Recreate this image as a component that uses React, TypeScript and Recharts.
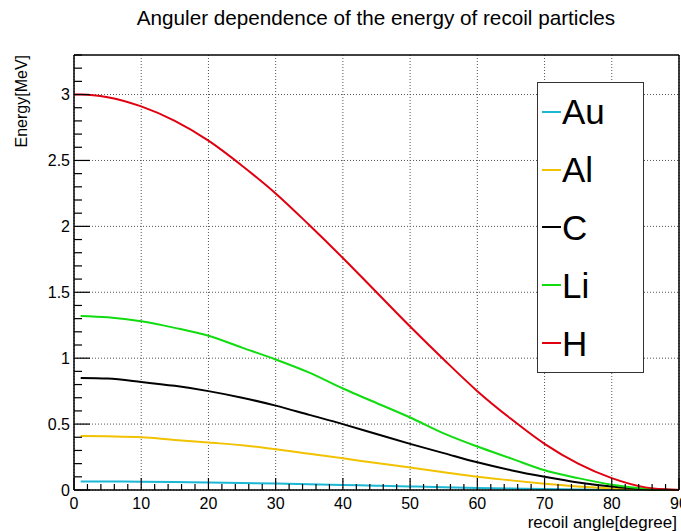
import React from 'react';
import { ComposedChart, Line, Scatter, XAxis, YAxis, CartesianGrid } from 'recharts';

// recoil angle [deg]
const angles = [0, 1, 5, 10, 15, 20, 25, 30, 35, 40, 45, 50, 55, 60, 65, 70, 75, 80, 85, 88, 90];

// energy of the recoil particle [MeV]
const auEnergy = [null, 0.065, 0.065, 0.063, 0.061, 0.057, 0.053, 0.049, 0.044, 0.038, 0.033, 0.027, 0.021, 0.016, 0.012, 0.008, 0.004, 0.002, 0.0, 0.0, 0.0];
const alEnergy = [null, 0.41, 0.407, 0.4, 0.38, 0.36, 0.34, 0.31, 0.275, 0.24, 0.205, 0.17, 0.135, 0.1, 0.073, 0.048, 0.027, 0.012, 0.003, 0.0, 0.0];
const cEnergy = [null, 0.85, 0.845, 0.82, 0.79, 0.75, 0.7, 0.64, 0.57, 0.5, 0.425, 0.35, 0.28, 0.21, 0.15, 0.1, 0.057, 0.026, 0.006, 0.001, 0.0];
const liEnergy = [null, 1.32, 1.31, 1.28, 1.23, 1.17, 1.08, 0.99, 0.89, 0.77, 0.66, 0.55, 0.43, 0.33, 0.24, 0.15, 0.09, 0.04, 0.01, 0.002, 0.0];
const hEnergy = [3.0, 3.0, 2.98, 2.91, 2.8, 2.65, 2.46, 2.25, 2.01, 1.76, 1.5, 1.24, 0.99, 0.75, 0.54, 0.35, 0.2, 0.09, 0.02, 0.005, 0.0];

const xTicks = [0, 10, 20, 30, 40, 50, 60, 70, 80, 90];
const yTicks = [0, 0.5, 1, 1.5, 2, 2.5, 3];
// small tick marks: every 2 degrees and every 0.1 MeV
const xMinorTicks = Array.from({ length: 46 }, (_, i) => i * 2);
const yMinorTicks = Array.from({ length: 34 }, (_, i) => i / 10);

const series = [
  { key: 'Au', values: auEnergy, color: '#1bb8d6' },
  { key: 'Al', values: alEnergy, color: '#f2c200' },
  { key: 'C', values: cEnergy, color: '#000000' },
  { key: 'Li', values: liEnergy, color: '#10dc10' },
  { key: 'H', values: hEnergy, color: '#e00010' },
];

const rows = angles.map((angle, i) => {
  const row: Record<string, number | null> = { angle };
  series.forEach(s => {
    row[s.key] = s.values[i];
  });
  return row;
});

const isMajor = (list: number[], v: number) => list.some(t => Math.abs(t - v) < 1e-6);

// inward tick marks along the bottom and left edges of the frame
const xTickMarks = xMinorTicks.map(v => ({ angle: v, e: 0, len: isMajor(xTicks, v) ? 12 : 6 }));
const yTickMarks = yMinorTicks.map(v => ({ angle: 0, e: v, len: isMajor(yTicks, v) ? 16 : 8 }));

const XTickMark = (p: any) => (
  <line x1={p.cx} x2={p.cx} y1={p.cy} y2={p.cy - p.payload.len} stroke="#000" strokeWidth={1.2} />
);
const YTickMark = (p: any) => (
  <rect x={Number(p.cx)} y={Number(p.cy) - 0.6} width={p.payload.len} height={1.2} fill="#000" />
);

const FONT = '"Liberation Sans", Arial, Helvetica, sans-serif';

const App: React.FC = () => {
  return (
    <div style={{ position: 'absolute', left: 0, top: 0, width: 681, height: 531, background: '#fff', fontFamily: FONT }}>
      <ComposedChart width={681} height={531} data={rows} margin={{ top: 54, right: 1, bottom: 16, left: 0 }}>
        <CartesianGrid stroke="#555" strokeDasharray="1 2" horizontalValues={yTicks} verticalValues={xTicks} />

        <XAxis
          dataKey="angle"
          type="number"
          domain={[0, 90]}
          ticks={xTicks}
          interval={0}
          height={25}
          tickLine={false}
          axisLine={{ stroke: '#000', strokeWidth: 1.5 }}
          tick={{ fill: '#000', fontSize: 16, fontFamily: FONT }}
        />
        <XAxis xAxisId="top" orientation="top" type="number" domain={[0, 90]} height={1}
          tick={false} tickLine={false} axisLine={{ stroke: '#000', strokeWidth: 1.5 }} />

        <YAxis
          type="number"
          domain={[0, 3.3]}
          ticks={yTicks}
          interval={0}
          width={74}
          tickSize={2}
          tickMargin={2}
          tickLine={false}
          axisLine={{ stroke: '#000', strokeWidth: 1.5 }}
          tick={{ fill: '#000', fontSize: 16, fontFamily: FONT }}
        />
        <YAxis yAxisId="right" orientation="right" type="number" domain={[0, 3.3]} width={1}
          tick={false} tickLine={false} axisLine={{ stroke: '#000', strokeWidth: 1.5 }} />

        <Scatter data={xTickMarks} dataKey="e" shape={XTickMark} isAnimationActive={false} />
        <Scatter data={yTickMarks} dataKey="e" shape={YTickMark} isAnimationActive={false} />

        {series.map(s => (
          <Line
            key={s.key}
            type="monotone"
            dataKey={s.key}
            stroke={s.color}
            strokeWidth={2}
            dot={false}
            isAnimationActive={false}
          />
        ))}
      </ComposedChart>

      <svg width={681} height={531} style={{ position: 'absolute', left: 0, top: 0, pointerEvents: 'none' }}>
        <text x={376} y={25} textAnchor="middle" fontSize={20.7} fontFamily={FONT} fill="#000">
          Anguler dependence of the energy of recoil particles
        </text>
        <text transform="translate(27,55) rotate(-90)" textAnchor="end" fontSize={16} fontFamily={FONT} fill="#000">
          Energy[MeV]
        </text>
        <text x={677} y={528} textAnchor="end" fontSize={17} fontFamily={FONT} fill="#000">
          recoil angle[degree]
        </text>
      </svg>

      <div
        style={{
          position: 'absolute',
          left: 537,
          top: 82,
          width: 107,
          height: 291,
          boxSizing: 'border-box',
          border: '1.5px solid #333',
          background: '#fff',
          display: 'flex',
          flexDirection: 'column',
        }}
      >
        {series.map(s => (
          <div key={s.key} style={{ flex: 1, display: 'flex', alignItems: 'center' }}>
            <span style={{ display: 'inline-block', width: 19, height: 2, marginLeft: 4, background: s.color }} />
            <span style={{ fontSize: 35, lineHeight: 1, color: '#000', marginLeft: 1 }}>{s.key}</span>
          </div>
        ))}
      </div>
    </div>
  );
};

export default App;
